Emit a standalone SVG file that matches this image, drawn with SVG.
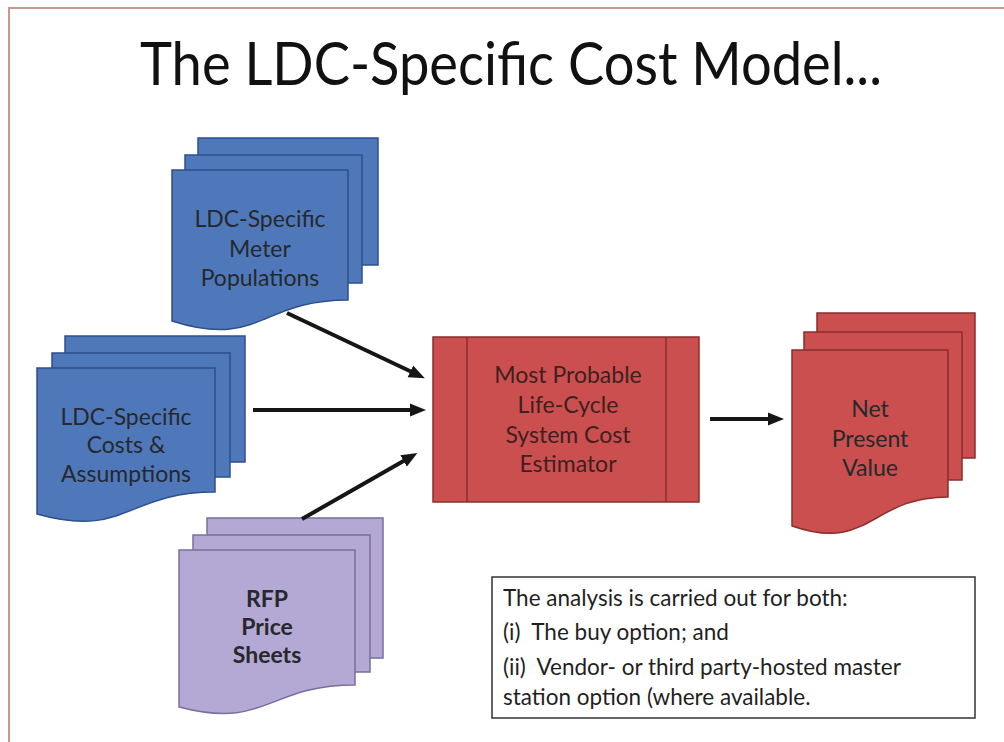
<svg xmlns="http://www.w3.org/2000/svg" width="1004" height="742" viewBox="0 0 1004 742">
<defs>
<style>
.blue{fill:#4f78ba;stroke:#2e4f8c;stroke-width:1.5}
.purple{fill:#b4a8d4;stroke:#7b6e9c;stroke-width:1.5}
.red{fill:#ca4f4e;stroke:#8a2e2e;stroke-width:1.5}
.t{font-family:Lato,"Liberation Sans",sans-serif;font-size:23px;fill:#26282d;text-anchor:middle}
.tb{font-weight:bold}
.tr{fill:#3f1f1f}
.box{font-family:Lato,"Liberation Sans",sans-serif;font-size:22.5px;fill:#1f1f1f;white-space:pre}
.conn{stroke:#161616;stroke-width:4;fill:none;marker-end:url(#ah)}
</style>
<marker id="ah" markerUnits="userSpaceOnUse" markerWidth="16" markerHeight="14" refX="4" refY="7" orient="auto">
<path d="M0,0.5 L16,7 L0,13.5 z" fill="#161616"/>
</marker>
</defs>
<rect width="1004" height="742" fill="#ffffff"/>
<path d="M9,742 V8 H1004" fill="none" stroke="#c59a8a" stroke-width="2"/>
<text x="511" y="85" font-family="Lato,'Liberation Sans',sans-serif" font-size="60" fill="#111" text-anchor="middle" textLength="742" lengthAdjust="spacingAndGlyphs">The LDC-Specific Cost Model...</text>

<g id="meter">
<rect class="blue" x="198" y="138" width="180" height="127"/>
<rect class="blue" x="185" y="155" width="177" height="128"/>
<path class="blue" d="M172,170 H348 V300 C260,300 260,349 172,321 Z"/>
<text class="t" x="260" y="227">LDC-Specific</text>
<text class="t" x="260" y="257">Meter</text>
<text class="t" x="260" y="286">Populations</text>
</g>

<g id="costs">
<rect class="blue" x="65" y="336" width="180" height="126"/>
<rect class="blue" x="52" y="353" width="178" height="124"/>
<path class="blue" d="M37,368 H215 V492 C126,492 126,539 37,514 Z"/>
<text class="t" x="126" y="425">LDC-Specific</text>
<text class="t" x="126" y="453">Costs &amp;</text>
<text class="t" x="126" y="482">Assumptions</text>
</g>

<g id="rfp">
<rect class="purple" x="207" y="518" width="176" height="140"/>
<rect class="purple" x="193" y="535" width="177" height="137"/>
<path class="purple" d="M179,550 H355 V685 C267,685 267,730 179,707 Z"/>
<text class="t tb" x="267" y="607">RFP</text>
<text class="t tb" x="267" y="635">Price</text>
<text class="t tb" x="267" y="663">Sheets</text>
</g>

<g id="estimator">
<rect class="red" x="433" y="337" width="266" height="165"/>
<line x1="467" y1="337" x2="467" y2="502" stroke="#8a2e2e" stroke-width="1.5"/>
<line x1="666" y1="337" x2="666" y2="502" stroke="#8a2e2e" stroke-width="1.5"/>
<text class="t tr" x="568" y="383">Most Probable</text>
<text class="t tr" x="568" y="413">Life-Cycle</text>
<text class="t tr" x="568" y="443">System Cost</text>
<text class="t tr" x="568" y="472">Estimator</text>
</g>

<g id="npv">
<rect class="red" x="817" y="313" width="158" height="145"/>
<rect class="red" x="804" y="332" width="158" height="148"/>
<path class="red" d="M792,350 H948 V497 C870,497 870,553 792,526 Z"/>
<text class="t" x="870" y="417">Net</text>
<text class="t" x="870" y="447">Present</text>
<text class="t" x="870" y="476">Value</text>
</g>

<g id="note">
<rect x="492" y="577" width="483" height="141" fill="#ffffff" stroke="#333" stroke-width="1.5"/>
<text class="box" x="503" y="606">The analysis is carried out for both:</text>
<text class="box" x="503" y="640" xml:space="preserve">(i)  The buy option; and</text>
<text class="box" x="503" y="675" xml:space="preserve">(ii)  Vendor- or third party-hosted master</text>
<text class="box" x="503" y="705">station option (where available.</text>
</g>

<g id="connectors">
<line class="conn" x1="287" y1="313" x2="414" y2="373"/>
<line class="conn" x1="253" y1="410" x2="414" y2="410"/>
<line class="conn" x1="302" y1="519" x2="407" y2="459"/>
<line class="conn" x1="710" y1="419" x2="772" y2="419"/>
</g>
</svg>
